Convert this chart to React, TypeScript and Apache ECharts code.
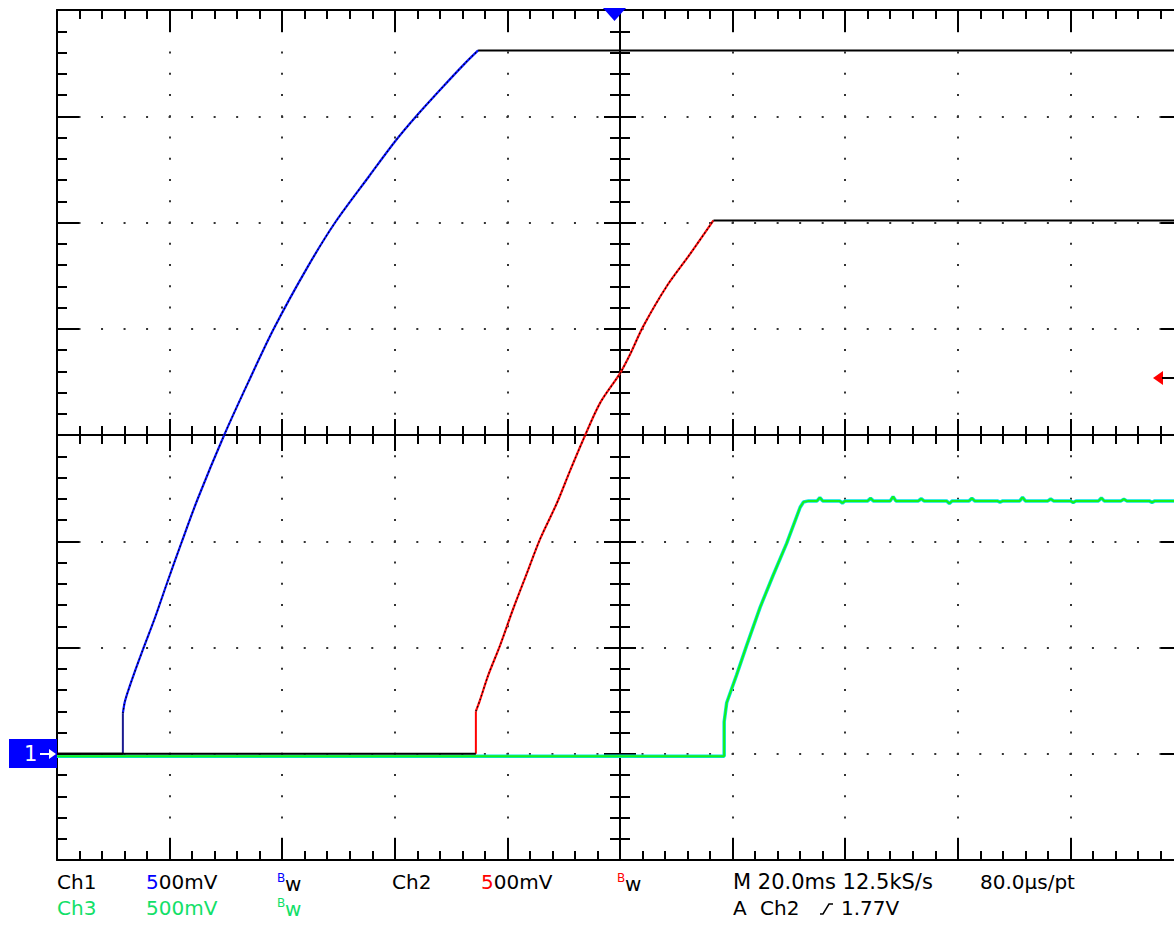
import React, { useEffect, useRef } from "react";
import * as echarts from "echarts";

// time axis (ms), 20 ms/div, trigger at centre
const X_MIN = -100;
const X_MAX = 100;
const X_STEP = 20;
// volts, 500 mV/div, ground one division above the bottom
const Y_MIN = -0.5;
const Y_MAX = 3.5;
const Y_STEP = 0.5;

// Ch1 (blue)
const ch1Time = [-100, -88.3, -88.3, -87.9, -86.4, -84.6, -82.6, -80.5, -77.8, -75.0, -70.3, -66.0, -61.5, -55.5, -50.6, -44.5, -40.0, -36.2, -31.4, -27.5, -25.2, 100];
const ch1Volt = [0, 0, 0.19, 0.25, 0.37, 0.5, 0.64, 0.8, 1.0, 1.2, 1.5, 1.75, 2.0, 2.29, 2.5, 2.72, 2.88, 3.0, 3.14, 3.25, 3.31, 3.31];

// Ch2 (red)
const ch2Time = [-100, -25.6, -25.6, -24.9, -23.4, -21.3, -19.0, -16.6, -14.2, -11.2, -8.9, -6.5, -3.55, 0, 1.8, 4.1, 8.3, 12.4, 16.6, 100];
const ch2Volt = [0, 0, 0.2, 0.25, 0.37, 0.51, 0.68, 0.845, 1.01, 1.18, 1.33, 1.48, 1.65, 1.79, 1.88, 2.01, 2.2, 2.35, 2.51, 2.51];

// Ch3 (green)
const ch3Time = [-100, 18.5, 18.5, 18.95, 20.7, 22.5, 24.9, 27.2, 29.6, 32.0, 32.6, 33.5, 35, 35.5, 36, 39, 39.5, 40, 44, 44.5, 45, 48, 48.5, 49, 53, 53.5, 54, 58, 58.5, 59, 62, 62.5, 63, 67, 67.5, 68, 71, 71.5, 72, 76, 76.5, 77, 80, 80.5, 81, 85, 85.5, 86, 89, 89.5, 90, 94, 94.5, 95, 100];
const ch3Volt = [-0.012, -0.012, 0.15, 0.24, 0.37, 0.51, 0.69, 0.84, 0.99, 1.16, 1.185, 1.19, 1.19, 1.205, 1.19, 1.19, 1.18, 1.19, 1.19, 1.202, 1.19, 1.19, 1.21, 1.19, 1.19, 1.2, 1.19, 1.19, 1.178, 1.19, 1.19, 1.202, 1.19, 1.19, 1.184, 1.19, 1.19, 1.207, 1.19, 1.19, 1.199, 1.19, 1.19, 1.182, 1.19, 1.19, 1.204, 1.19, 1.19, 1.198, 1.19, 1.19, 1.183, 1.19, 1.19];

// readout texts
const row1Texts = ["Ch1", "500mV", "Ch2", "500mV", "M 20.0ms 12.5kS/s", "80.0\u00b5s/pt"];
const row2Texts = ["Ch3", "500mV", "A", "Ch2", "1.77V"];

const FONT = '"DejaVu Sans", sans-serif';
const GREEN_TXT = "#12e068";

function pts(t: number[], v: number[], from = 0, to = t.length - 1) {
  const out: number[][] = [];
  for (let i = from; i <= to; i++) out.push([t[i], v[i]]);
  return out;
}

function xAxisDef(position: string, offset: number, inside: boolean, major: number, minor: number, split: boolean) {
  return {
    type: "value",
    min: X_MIN,
    max: X_MAX,
    interval: X_STEP,
    position,
    offset,
    axisLine: { show: true, onZero: false, lineStyle: { color: "#000", width: 2 } },
    axisTick: { show: true, inside, length: major, lineStyle: { color: "#000", width: 2 } },
    minorTick: { show: true, splitNumber: 5, length: minor, lineStyle: { color: "#000", width: 2 } },
    axisLabel: { show: false },
    splitLine: split
      ? { show: true, lineStyle: { color: "#333", width: 2, type: [2, 19.25], dashOffset: 1 } }
      : { show: false },
  };
}

function yAxisDef(position: string, offset: number, inside: boolean, major: number, minor: number, split: boolean) {
  return {
    type: "value",
    min: Y_MIN,
    max: Y_MAX,
    interval: Y_STEP,
    position,
    offset,
    axisLine: { show: true, onZero: false, lineStyle: { color: "#000", width: 2 } },
    axisTick: { show: true, inside, length: major, lineStyle: { color: "#000", width: 2 } },
    minorTick: { show: true, splitNumber: 5, length: minor, lineStyle: { color: "#000", width: 2 } },
    axisLabel: { show: false },
    splitLine: split
      ? { show: true, lineStyle: { color: "#333", width: 2, type: [2, 20.52], dashOffset: 1 } }
      : { show: false },
  };
}

function line(name: string, data: number[][], color: string, width: number, dash?: number[], smooth: number | boolean = false) {
  return {
    name,
    type: "line",
    data,
    showSymbol: false,
    symbol: "none",
    smooth,
    clip: true,
    silent: true,
    lineStyle: { color, width, type: dash ? dash : "solid" },
  };
}

function txt(text: string, x: number, y: number, fill: string, size = 20, rich?: any) {
  return {
    type: "text",
    x,
    y,
    z: 100,
    style: {
      text,
      fill,
      fontSize: size,
      fontFamily: FONT,
      verticalAlign: "middle",
      align: "left",
      rich,
    },
  };
}

export default function App() {
  const ref = useRef<HTMLDivElement>(null);

  useEffect(() => {
    if (!ref.current) return;
    const chart = echarts.init(ref.current, null, { renderer: "svg" });
    const n1 = ch1Time.length;
    const n2 = ch2Time.length;
    const SM = 0.3;

    const option: any = {
      animation: false,
      backgroundColor: "#fff",
      grid: { left: 57, top: 10, width: 1126, height: 850, containLabel: false, outerBoundsMode: "none" },
      xAxis: [
        xAxisDef("bottom", 0, true, 22, 9, true),
        xAxisDef("top", 0, true, 22, 9, false),
        xAxisDef("top", -425, true, 16, 9, false),
        xAxisDef("top", -425, false, 16, 9, false),
      ],
      yAxis: [
        yAxisDef("left", 0, true, 22, 10, true),
        yAxisDef("right", 0, true, 22, 9, false),
        yAxisDef("left", -563, true, 16, 10, false),
        yAxisDef("left", -563, false, 16, 10, false),
      ],
      series: [
        line("Ch3 edge", pts(ch3Time, ch3Volt), "#00e4e4", 3.5),
        line("Ch3", pts(ch3Time, ch3Volt), "#18f018", 2),
        line("Ch1 jump", pts(ch1Time, ch1Volt, 1, 2), "#1a1a90", 2),
        line("Ch1", pts(ch1Time, ch1Volt, 2, n1 - 2), "#0a14ff", 2.2, undefined, SM),
        line("Ch1 steps", pts(ch1Time, ch1Volt, 2, n1 - 2), "#000", 1.2, [1.5, 2.5], SM),
        line("Ch2 jump", pts(ch2Time, ch2Volt, 1, 2), "#ff0000", 2),
        line("Ch2", pts(ch2Time, ch2Volt, 2, n2 - 2), "#ff1010", 2.2, undefined, SM),
        line("Ch2 steps", pts(ch2Time, ch2Volt, 2, n2 - 2), "#000", 1.2, [1.5, 2.5], SM),
        line("Ch1 base", pts(ch1Time, ch1Volt, 0, 1), "#000", 2),
        line("Ch1 top", pts(ch1Time, ch1Volt, n1 - 2, n1 - 1), "#000", 2),
        line("Ch2 base", pts(ch2Time, ch2Volt, 0, 1), "#000", 2),
        line("Ch2 top", pts(ch2Time, ch2Volt, n2 - 2, n2 - 1), "#000", 2),
      ],
      graphic: [
        // Ch1 ground marker
        { type: "rect", z: 100, shape: { x: 9, y: 739, width: 48, height: 29 }, style: { fill: "#0000ff" } },
        txt("1", 24, 754, "#fff", 21),
        { type: "line", z: 101, shape: { x1: 40, y1: 754, x2: 54, y2: 754 }, style: { stroke: "#fff", lineWidth: 2 } },
        { type: "polygon", z: 101, shape: { points: [[56, 754], [49, 749], [49, 759]] }, style: { fill: "#fff" } },
        // trigger position marker
        { type: "polygon", z: 100, shape: { points: [[603, 8], [626, 8], [614.5, 21]] }, style: { fill: "#0000ff" } },
        // trigger level marker
        { type: "polygon", z: 100, shape: { points: [[1153, 378], [1163, 371], [1163, 385]] }, style: { fill: "#ff0000" } },
        { type: "line", z: 100, shape: { x1: 1162, y1: 378, x2: 1174, y2: 378 }, style: { stroke: "#000", lineWidth: 2 } },
        // readout row 1
        txt(row1Texts[0], 57, 882, "#000"),
        txt("{c|5}" + row1Texts[1].slice(1), 146, 882, "#000", 20, { c: { fill: "#0000ff", fontSize: 20, fontFamily: FONT } }),
        txt("B", 277, 878, "#0000ff", 12),
        txt("w", 285, 884, "#000", 20),
        txt(row1Texts[2], 392, 882, "#000"),
        txt("{c|5}" + row1Texts[3].slice(1), 481, 882, "#000", 20, { c: { fill: "#ff0000", fontSize: 20, fontFamily: FONT } }),
        txt("B", 617, 878, "#ff0000", 12),
        txt("w", 625, 884, "#000", 20),
        txt(row1Texts[4], 733, 882, "#000", 21),
        txt(row1Texts[5], 980, 882, "#000"),
        // readout row 2
        txt(row2Texts[0], 57, 907.5, GREEN_TXT),
        txt(row2Texts[1], 146, 907.5, GREEN_TXT),
        txt("B", 277, 903, GREEN_TXT, 12),
        txt("w", 285, 909, GREEN_TXT, 20),
        txt(row2Texts[2], 733, 907.5, "#000"),
        txt(row2Texts[3], 760, 907.5, "#000"),
        { type: "polyline", z: 100, shape: { points: [[820, 914], [823, 914], [829, 904], [833, 904]] }, style: { stroke: "#000", lineWidth: 1.5, fill: null } },
        txt(row2Texts[4], 841, 907.5, "#000"),
      ],
    };

    chart.setOption(option);
    return () => chart.dispose();
  }, []);

  return (
    <div
      ref={ref}
      style={{ position: "absolute", left: 0, top: 0, width: 1174, height: 932, background: "#fff" }}
    />
  );
}
